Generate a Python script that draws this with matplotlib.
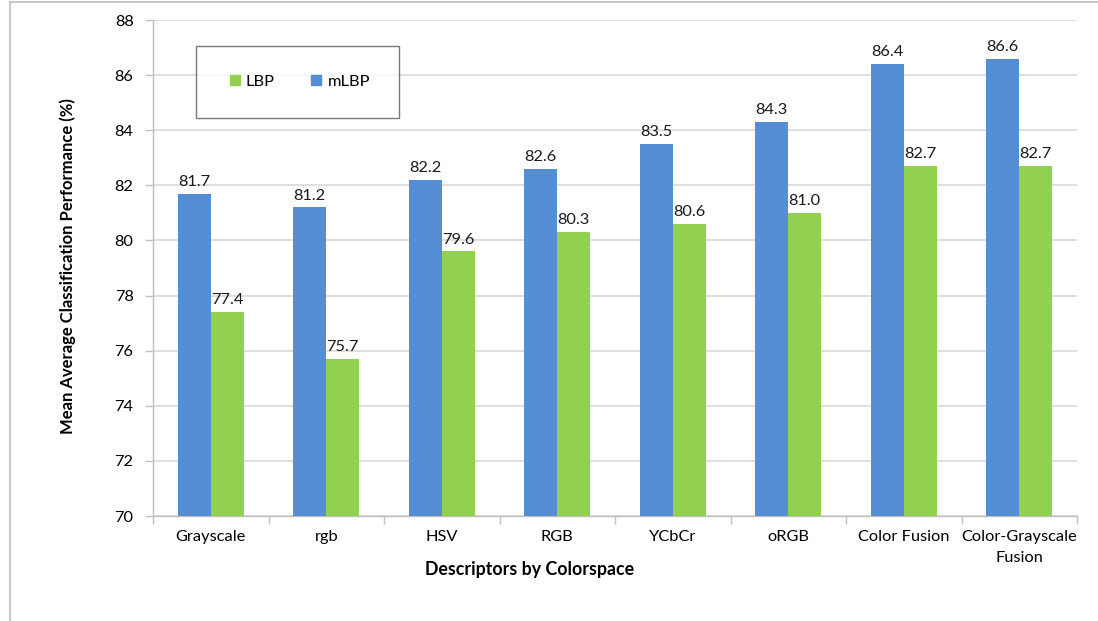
import numpy as np
import matplotlib
matplotlib.use('Agg')
import matplotlib.pyplot as plt
from matplotlib.lines import Line2D

plt.rcParams['font.family'] = ['Lato', 'DejaVu Sans']

categories = ['Grayscale', 'rgb', 'HSV', 'RGB', 'YCbCr', 'oRGB',
              'Color Fusion', 'Color-Grayscale\nFusion']
mlbp = [81.7, 81.2, 82.2, 82.6, 83.5, 84.3, 86.4, 86.6]
lbp = [77.4, 75.7, 79.6, 80.3, 80.6, 81.0, 82.7, 82.7]
yticks = [70, 72, 74, 76, 78, 80, 82, 84, 86, 88]

BLUE = '#558ed5'
GREEN = '#92d050'
GRID = '#d9d9d9'
FS = 11.8

fig = plt.figure(figsize=(10.98, 6.21), dpi=100)
ax = fig.add_axes([153/1098, 1 - 516/621, (1077 - 153)/1098, (516 - 20)/621])

x = np.arange(len(categories))
w = 0.286
b1 = ax.bar(x - w/2, mlbp, w, color=BLUE, zorder=3)
b2 = ax.bar(x + w/2, lbp, w, color=GREEN, zorder=3)

for bars, vals in ((b1, mlbp), (b2, lbp)):
    for r, v in zip(bars, vals):
        ax.text(r.get_x() + r.get_width()/2, v + 0.17, f'{v:.1f}',
                ha='center', va='bottom', fontsize=FS, color='#1a1a1a')

ax.set_xlim(-0.5, len(categories) - 0.5)
ax.set_ylim(70, 88)
ax.set_yticks(yticks)
ax.set_yticklabels([str(t) for t in yticks], fontsize=FS)
ax.yaxis.grid(True, color=GRID, lw=1.2, zorder=0)
ax.tick_params(axis='y', length=6, color='#bfbfbf', width=1, pad=8)

ax.set_xticks(x)
ax.set_xticklabels(categories, fontsize=FS, linespacing=1.65)
ax.tick_params(axis='x', length=0, pad=10)
ax.set_xticks(np.arange(-0.5, len(categories)), minor=True)
ax.tick_params(axis='x', which='minor', length=6, color='#bfbfbf', width=1)

for s in ('top', 'right'):
    ax.spines[s].set_visible(False)
ax.spines['left'].set_color('#bfbfbf')
ax.spines['bottom'].set_color('#bfbfbf')
ax.spines['left'].set_linewidth(1)
ax.spines['bottom'].set_linewidth(1)

fig.text(68/1098, 1 - 266/621, 'Mean Average Classification Performance (%)',
         rotation=90, ha='center', va='center', fontsize=12, fontweight='bold')
fig.text(530/1098, 1 - 569/621, 'Descriptors by Colorspace',
         ha='center', va='center', fontsize=12.8, fontweight='bold')

handles = [Line2D([], [], marker='s', ls='', color=GREEN, markersize=7),
           Line2D([], [], marker='s', ls='', color=BLUE, markersize=7)]
leg = ax.legend(handles, ['LBP', 'mLBP'], ncol=2, fontsize=FS,
                loc='upper left', bbox_to_anchor=(43/924, 1 - 26/496),
                frameon=True, fancybox=False, borderpad=1.75,
                handletextpad=0.1, columnspacing=1.9, handlelength=1.2,
                borderaxespad=0)
leg.get_frame().set_edgecolor('#595959')
leg.get_frame().set_linewidth(1)

# outer chart border
fig.add_artist(Line2D([10/1098, 10/1098], [0, 1 - 2/621], color='#bfbfbf', lw=1.2))
fig.add_artist(Line2D([10/1098, 1], [1 - 2/621, 1 - 2/621], color='#bfbfbf', lw=1.2))

fig.savefig('out.png', dpi=100)
